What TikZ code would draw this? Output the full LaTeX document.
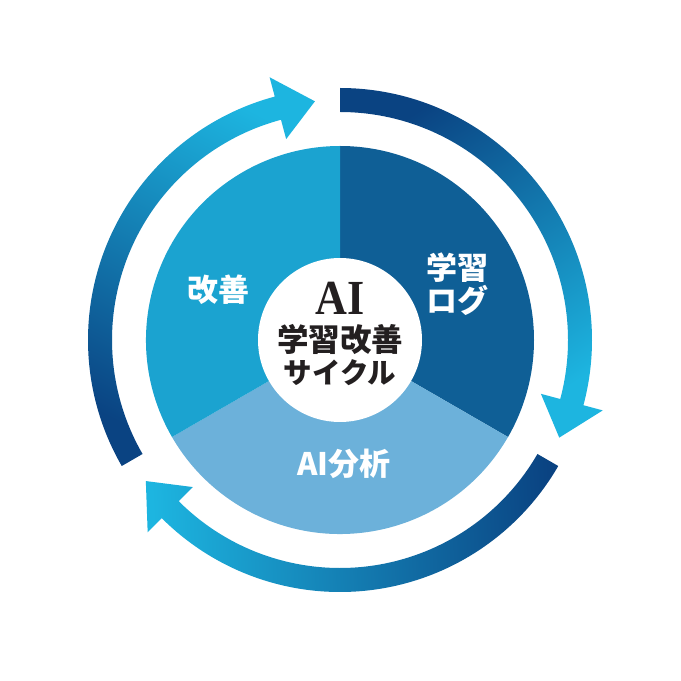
\documentclass[tikz,border=0pt]{standalone}
\usepackage{fontspec}
\setmainfont{Liberation Serif}
\newfontfamily\jp{Noto Sans CJK JP}
\definecolor{navy}{HTML}{0A4382}
\definecolor{cyanA}{HTML}{1DB5E0}
\definecolor{secR}{HTML}{0F5F96}
\definecolor{secB}{HTML}{6CB1DA}
\definecolor{secL}{HTML}{1BA3D0}
\definecolor{ink}{HTML}{231F20}
\tikzset{
  lbl/.style={text=white,font=\jp\bfseries\fontsize{31pt}{35pt}\selectfont,align=center,inner sep=0pt},
  ctr/.style={text=ink,inner sep=0pt,align=center}
}
\newcommand{\cyclearrow}[2]{% #1 tail angle, #2 shading angle
  \shade[top color=navy,bottom color=cyanA,shading angle=#2]
    (#1:252pt) arc[start angle=#1,end angle=#1-105,radius=252pt]
    -- (#1-105:272pt) -- (#1-114:240pt) -- (#1-105:208pt) -- (#1-105:228pt)
    arc[start angle=#1-105,end angle=#1,radius=228pt] -- cycle;
}
\begin{document}
\begin{tikzpicture}
\useasboundingbox (0pt,0pt) rectangle (681pt,681pt);
\fill[white] (0pt,0pt) rectangle (681pt,681pt);
\begin{scope}[shift={(340pt,341pt)}]
  % pie sectors
  \fill[secR] (0,0) -- (90:194pt) arc[start angle=90,end angle=-30,radius=194pt] -- cycle;
  \fill[secB] (0,0) -- (-30:194pt) arc[start angle=-30,end angle=-150,radius=194pt] -- cycle;
  \fill[secL] (0,0) -- (210:194pt) arc[start angle=210,end angle=90,radius=194pt] -- cycle;
  \fill[white] (0,0) circle[radius=82pt];
  % arrows
  \cyclearrow{90}{33}
  \cyclearrow{-30}{-87}
  \cyclearrow{210}{153}
  % labels
  \node[lbl] (log) at (117pt,56pt) {学習\\[-2pt]ログ};
  \node[lbl] (kaizen) at (-122pt,50pt) {改善};
  \node[lbl] (bunseki) at (4pt,-124pt) {AI分析};
  \node[ctr,font=\bfseries\fontsize{49pt}{49pt}\selectfont,xscale=0.9] (ai) at (0pt,42pt) {AI};
  \node[ctr,font=\jp\bfseries\fontsize{31.5pt}{31.5pt}\selectfont] (gaku) at (0pt,0pt) {学習改善};
  \node[ctr,font=\jp\bfseries\fontsize{28.5pt}{28.5pt}\selectfont] (cycle) at (0pt,-33pt) {サイクル};
\end{scope}
\end{tikzpicture}
\end{document}
